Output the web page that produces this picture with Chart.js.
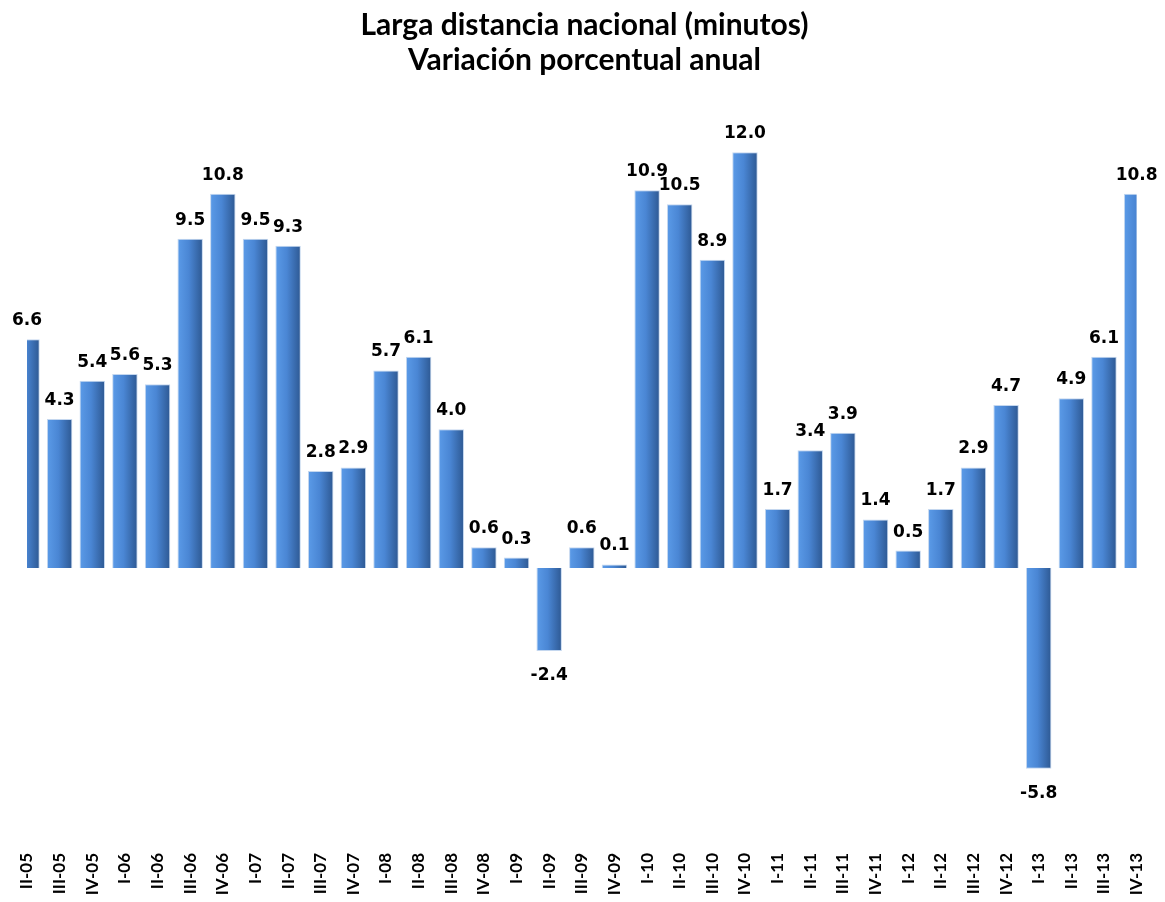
<!DOCTYPE html>
<html>
<head>
<meta charset="utf-8">
<script src="https://cdn.jsdelivr.net/npm/chart.js@4"></script>
<style>
  html, body { margin: 0; padding: 0; background: #fff; }
  #wrap { width: 1165px; height: 902px; }
</style>
</head>
<body>
<div id="wrap"><canvas id="chart" width="1165" height="902"></canvas></div>
<script>
  // ==================== Data ====================
  const quarters = ['II-05', 'III-05', 'IV-05', 'I-06', 'II-06', 'III-06', 'IV-06', 'I-07', 'II-07',
    'III-07', 'IV-07', 'I-08', 'II-08', 'III-08', 'IV-08', 'I-09', 'II-09', 'III-09', 'IV-09',
    'I-10', 'II-10', 'III-10', 'IV-10', 'I-11', 'II-11', 'III-11', 'IV-11', 'I-12', 'II-12',
    'III-12', 'IV-12', 'I-13', 'II-13', 'III-13', 'IV-13'];
  const variation = [6.6, 4.3, 5.4, 5.6, 5.3, 9.5, 10.8, 9.5, 9.3, 2.8, 2.9, 5.7, 6.1, 4.0, 0.6,
    0.3, -2.4, 0.6, 0.1, 10.9, 10.5, 8.9, 12.0, 1.7, 3.4, 3.9, 1.4, 0.5, 1.7, 2.9, 4.7, -5.8,
    4.9, 6.1, 10.8];
  const titleLines = ['Larga distancia nacional (minutos)', 'Variación porcentual anual'];

  // horizontal gradient across each bar
  function barFill(ctx) {
    const chart = ctx.chart;
    const x = chart.scales.x;
    if (!x || ctx.dataIndex === undefined) return '#4a86d4';
    const half = (x.width / (quarters.length - 1)) * 0.78 / 2;
    const cx = x.getPixelForValue(ctx.dataIndex);
    if (!Number.isFinite(cx) || !Number.isFinite(half) || half <= 0) return '#4a86d4';
    const g = chart.ctx.createLinearGradient(cx - half, 0, cx + half, 0);
    g.addColorStop(0, '#5b9be8');
    g.addColorStop(0.45, '#4a86d4');
    g.addColorStop(1, '#2d5892');
    return g;
  }

  // value labels above / below bars
  const valueLabels = {
    id: 'valueLabels',
    afterDatasetsDraw(chart) {
      const ctx = chart.ctx;
      const meta = chart.getDatasetMeta(0);
      ctx.save();
      ctx.font = 'bold 17px "DejaVu Sans", sans-serif';
      ctx.fillStyle = '#000';
      ctx.textAlign = 'center';
      ctx.textBaseline = 'alphabetic';
      meta.data.forEach((bar, i) => {
        const v = variation[i];
        const txt = v.toFixed(1);
        if (v >= 0) {
          ctx.fillText(txt, bar.x, bar.y - 14);
        } else {
          ctx.fillText(txt, bar.x, bar.y + 29);
        }
      });
      ctx.restore();
    }
  };

  new Chart(document.getElementById('chart'), {
    type: 'bar',
    data: {
      labels: quarters,
      datasets: [{
        data: variation,
        backgroundColor: barFill,
        borderColor: '#c4d7ef',
        borderWidth: 1,
        barPercentage: 0.78,
        categoryPercentage: 1,
        clip: 0
      }]
    },
    options: {
      responsive: false,
      animation: false,
      layout: { padding: { left: 27, right: 23, top: 0, bottom: 0 } },
      plugins: {
        legend: { display: false },
        tooltip: { enabled: false },
        title: {
          display: true,
          text: titleLines,
          color: '#000',
          font: { family: 'Lato, "Open Sans", sans-serif', size: 30, weight: 'bold', lineHeight: 1.1667 },
          padding: { top: 8, bottom: 5 }
        }
      },
      scales: {
        x: {
          offset: false,
          grid: { display: false, drawTicks: false },
          border: { display: false },
          afterFit(scale) { scale.height = 57; },
          ticks: {
            color: '#000',
            autoSkip: false,
            minRotation: 90,
            maxRotation: 90,
            padding: 8,
            font: { family: 'Lato, "Open Sans", sans-serif', size: 17, weight: 'bold' }
          }
        },
        y: {
          display: false,
          min: -8,
          max: 14
        }
      }
    },
    plugins: [valueLabels]
  });
</script>
</body>
</html>
